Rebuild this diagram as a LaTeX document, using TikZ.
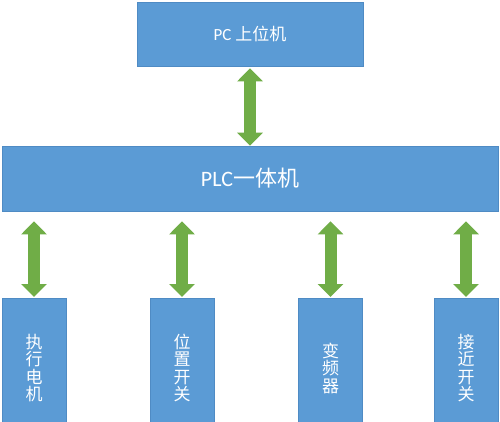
\documentclass[tikz,border=0pt]{standalone}
\usepackage{fontspec}
\setmainfont{Carlito}
\newfontfamily\cjk{Noto Sans CJK SC}
\usetikzlibrary{arrows.meta}
\definecolor{boxblue}{HTML}{5B9BD5}
\definecolor{boxedge}{HTML}{4F8BC4}
\definecolor{arrgreen}{HTML}{70AD47}
\tikzset{
  bluebox/.style={fill=boxblue, draw=boxedge, line width=0.8pt, inner sep=0pt},
  label/.style={text=white, inner sep=0pt},
  vlabel/.style={text=white, inner sep=0pt, align=center, font=\fontsize{17}{17.5}\selectfont\cjk},
  biarrow/.style={draw=arrgreen, line width=12pt,
    {Triangle[width=25pt,length=13pt]}-{Triangle[width=25pt,length=13pt]}}
}
\begin{document}
\begin{tikzpicture}[x=1pt,y=-1pt]
\useasboundingbox (0,0) rectangle (500,421);
\fill[white] (0,0) rectangle (500,421);
% boxes
\node[bluebox, minimum width=226pt, minimum height=64pt] (pc) at (250,34) {};
\node[bluebox, minimum width=496pt, minimum height=65pt] (plc) at (250,178.5) {};
\node[bluebox, minimum width=64pt, minimum height=140pt, anchor=north] (b1) at (34,298) {};
\node[bluebox, minimum width=64pt, minimum height=140pt, anchor=north] (b2) at (182,298) {};
\node[bluebox, minimum width=64pt, minimum height=140pt, anchor=north] (b3) at (330.5,298) {};
\node[bluebox, minimum width=64pt, minimum height=140pt, anchor=north] (b4) at (466,298) {};
% labels
\node[label, font=\fontsize{17}{19}\selectfont] (pct) at (pc.center) {PC {\cjk 上位机}};
\node[label, font=\fontsize{22}{24}\selectfont] (plct) at (plc.center) {PLC{\cjk 一体机}};
\node[vlabel] (t1) at (34,368) {执\\行\\电\\机};
\node[vlabel] (t2) at (182,368) {位\\置\\开\\关};
\node[vlabel] (t3) at (330.5,368) {变\\频\\器};
\node[vlabel] (t4) at (466,368) {接\\近\\开\\关};
% arrows
\draw[biarrow, shorten <=2pt] (pc.south) -- (plc.north);
\draw[biarrow, shorten <=10pt, shorten >=1pt] (plc.south -| b1.north) -- (b1.north);
\draw[biarrow, shorten <=10pt, shorten >=1pt] (plc.south -| b2.north) -- (b2.north);
\draw[biarrow, shorten <=10pt, shorten >=1pt] (plc.south -| b3.north) -- (b3.north);
\draw[biarrow, shorten <=10pt, shorten >=1pt] (plc.south -| b4.north) -- (b4.north);
\end{tikzpicture}
\end{document}
